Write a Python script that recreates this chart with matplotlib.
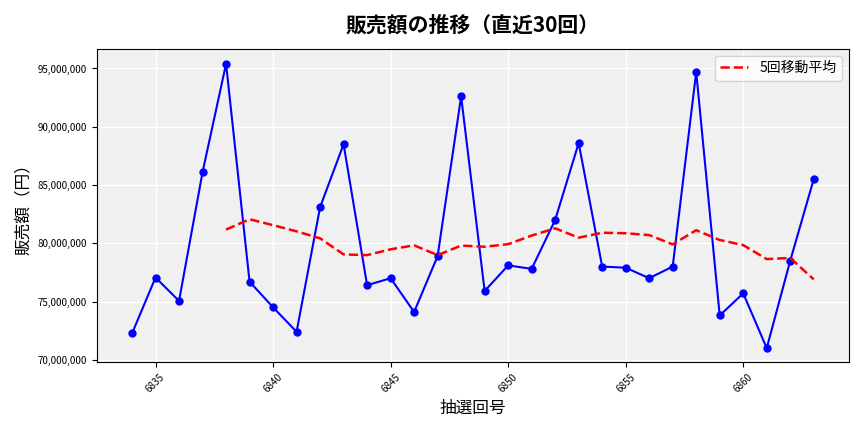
import matplotlib
matplotlib.use("Agg")
import matplotlib.pyplot as plt
import matplotlib.ticker as mticker
import pandas as pd

plt.rcParams['font.family'] = ['Noto Sans CJK JP', 'DejaVu Sans']

draws = list(range(6834, 6864))
sales = [72.26, 77.06, 75.05, 86.1, 95.4, 76.7, 74.5, 72.4, 83.1, 88.5,
         76.4, 77.0, 74.1, 78.9, 92.6, 75.9, 78.1, 77.8, 82.0, 88.6,
         78.0, 77.9, 77.0, 78.0, 94.7, 73.8, 75.7, 71.0, 78.5, 85.5]
sales = [v * 1_000_000 for v in sales]

s = pd.Series(sales, index=draws)
ma5 = s.rolling(5).mean()

fig, ax = plt.subplots(figsize=(8.64, 4.32), dpi=100)
ax.set_facecolor('#f0f0f0')
ax.grid(True, color='white', linewidth=1)
ax.set_axisbelow(True)

ax.plot(s.index, s.values, color='blue', marker='o', markersize=5, linewidth=1.5)
ax.plot(ma5.index, ma5.values, color='red', linestyle='--', linewidth=1.8, label='5回移動平均')

ax.set_title('販売額の推移（直近30回）', fontsize=15, fontweight='bold', pad=12)
ax.set_xlabel('抽選回号', fontsize=12)
ax.set_ylabel('販売額（円）', fontsize=12)
ax.yaxis.set_major_formatter(mticker.FuncFormatter(lambda v, p: f'{int(v):,}'))
ax.xaxis.set_major_locator(mticker.MultipleLocator(5))
ax.tick_params(axis='x', labelrotation=45, labelsize=7)
ax.tick_params(axis='y', labelsize=7)
ax.set_xlim(6832.5, 6864.5)
ax.set_ylim(69.8e6, 96.7e6)
ax.legend(loc='upper right', fontsize=10)

fig.tight_layout()
fig.savefig('out.png')
